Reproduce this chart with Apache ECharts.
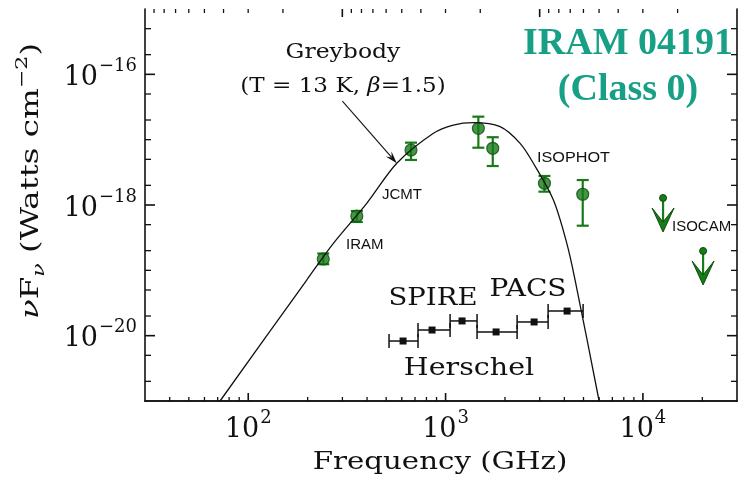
<!DOCTYPE html>
<html>
<head>
<meta charset="utf-8">
<script src="https://cdn.jsdelivr.net/npm/echarts@6/dist/echarts.min.js"></script>
<style>
  html, body { margin: 0; padding: 0; background: #fff; }
  #chart { width: 738px; height: 478px; }
</style>
</head>
<body>
<div id="chart"></div>
<script>
// ---- Ground-based / ISOPHOT detections (GHz, W cm^-2) ----
const detFreq = [240, 355, 668, 1466, 1734, 3170, 4955];
const detFlux = [1.49e-19, 6.79e-19, 6.95e-18, 1.49e-17, 7.38e-18, 2.15e-18, 1.46e-18];
const detLow  = [1.24e-19, 5.50e-19, 4.89e-18, 7.53e-18, 3.95e-18, 1.60e-18, 4.82e-19];
const detHigh = [1.81e-19, 8.09e-19, 9.00e-18, 2.25e-17, 1.09e-17, 2.78e-18, 2.41e-18];

// ---- ISOCAM upper limits ----
const limFreq = [12650, 20180];
const limFlux = [1.28e-18, 1.98e-19];

// ---- Herschel sensitivities (band centre, band edges) ----
const herFreq = [609, 854, 1212, 1803, 2810, 4129];
const herFlux = [8.28e-21, 1.22e-20, 1.68e-20, 1.14e-20, 1.62e-20, 2.38e-20];
const herLo   = [517, 725, 1054, 1444, 2304, 3308];
const herHi   = [725, 1054, 1444, 2304, 3308, 4977];

// ---- Greybody curve (T = 13 K, beta = 1.5) ----
const gbFreq = [60, 71.95, 197.9, 270.0, 398.6, 565.9, 867.7, 1095, 1383, 1889, 2386, 2786, 3519, 4115, 4533, 5998, 6500];
const gbFlux = [4.67e-22, 1.0e-21, 7.11e-20, 2.59e-19, 1.06e-18, 4.35e-18, 1.25e-17, 1.67e-17, 1.82e-17, 1.58e-17, 8.79e-18, 4.35e-18, 1.19e-18, 2.59e-19, 7.11e-20, 1.0e-21, 2.9e-22];

// ---- Pointer from the model caption to the curve ----
const pointerFrom = [300, 3.9e-17];
const pointerTo = [565.9, 4.35e-18];

// ---- Axis ranges and tick values ----
const freqMin = 29.9792458, freqMax = 29979.2458;     // GHz  (10 mm .. 10 um)
const waveMin = 10, waveMax = 10000;                 // um on the top axis
const fluxMin = 1e-21, fluxMax = 1e-15;
const freqTicks = [40, 50, 60, 70, 80, 90, 100, 200, 300, 400, 500, 600, 700, 800, 900,
                   1000, 2000, 3000, 4000, 5000, 6000, 7000, 8000, 9000, 10000, 20000];
const freqMajor = [100, 1000, 10000];
const waveTicks = [20, 30, 40, 50, 60, 70, 80, 90, 100, 200, 300, 400, 500, 600, 700, 800, 900,
                   1000, 2000, 3000, 4000, 5000, 6000, 7000, 8000, 9000];
const waveMajor = [100, 1000];
const fluxTicks = [2e-21, 5e-21, 1e-20, 2e-20, 5e-20, 1e-19, 2e-19, 5e-19, 1e-18, 2e-18, 5e-18,
                   1e-17, 2e-17, 5e-17, 1e-16, 2e-16, 5e-16];
const fluxMajor = [1e-20, 1e-18, 1e-16];

const SERIF = '"DejaVu Serif", serif';
const SANS = '"Liberation Sans", Arial, sans-serif';
const GREEN = '#187a18';
const GREEN_DARK = '#0c4f0c';
const TEAL = '#17a085';
const INK = '#111';

const isMajor = (list, v) => list.some(m => Math.abs(m - v) / m < 1e-9);
const decadeExp = v => Math.round(Math.log10(v));
const isDecade = v => Math.abs(Math.log10(v) - decadeExp(v)) < 1e-6;

const chart = echarts.init(document.getElementById('chart'), null, { renderer: 'canvas' });

function tickRenderer(side) {
  return function (params, api) {
    const cs = params.coordSys;
    const v = api.value(0);
    const major = api.value(1) === 1;
    let shape;
    if (side === 'bottom' || side === 'top') {
      const len = major ? 8 : 4;
      const x = api.coord([v, fluxMin])[0];
      if (side === 'bottom') shape = { x1: x, y1: cs.y + cs.height, x2: x, y2: cs.y + cs.height - len };
      else shape = { x1: x, y1: cs.y, x2: x, y2: cs.y + len };
    } else {
      const len = major ? 10 : 6;
      const y = api.coord([freqMin, v])[1];
      if (side === 'left') shape = { x1: cs.x, y1: y, x2: cs.x + len, y2: y };
      else shape = { x1: cs.x + cs.width, y1: y, x2: cs.x + cs.width - len, y2: y };
    }
    return { type: 'line', shape, style: { stroke: INK, lineWidth: major ? 1.6 : 1.3 } };
  };
}

const supLabel = {
  b: { fontFamily: SERIF, fontSize: 27, color: INK, lineHeight: 34, verticalAlign: 'bottom' },
  s: { fontFamily: SERIF, fontSize: 18, color: INK, lineHeight: 34, verticalAlign: 'top', padding: [0, 0, 0, 1] }
};

const option = {
  animation: false,
  backgroundColor: '#fff',
  grid: { left: 145, right: 1, top: 9, bottom: 77, containLabel: false },
  xAxis: [
    {
      type: 'log', logBase: 10, min: freqMin, max: freqMax, position: 'bottom',
      axisLine: { show: true, lineStyle: { color: INK, width: 1.6 } },
      axisTick: { show: false }, splitLine: { show: false }, minorTick: { show: false },
      axisLabel: {
        margin: 8, showMinLabel: false, showMaxLabel: false,
        formatter: v => (isDecade(v) ? '{b|10}{s|' + decadeExp(v) + '}' : ''),
        rich: supLabel
      }
    },
    {
      type: 'log', logBase: 10, min: waveMin, max: waveMax, position: 'top', inverse: true,
      axisLine: { show: true, lineStyle: { color: INK, width: 1.6 } },
      axisTick: { show: false }, axisLabel: { show: false }, splitLine: { show: false }
    }
  ],
  yAxis: [
    {
      type: 'log', logBase: 10, min: fluxMin, max: fluxMax, position: 'left',
      axisLine: { show: true, lineStyle: { color: INK, width: 1.6 } },
      axisTick: { show: false }, splitLine: { show: false },
      axisLabel: {
        margin: 8, showMinLabel: false, showMaxLabel: false,
        formatter: v => (isDecade(v) && decadeExp(v) % 2 === 0 ? '{b|10}{s|\u2212' + (-decadeExp(v)) + '}' : ''),
        rich: supLabel
      }
    },
    {
      type: 'log', logBase: 10, min: fluxMin, max: fluxMax, position: 'right',
      axisLine: { show: true, lineStyle: { color: INK, width: 1.6 } },
      axisTick: { show: false }, axisLabel: { show: false }, splitLine: { show: false }
    }
  ],
  series: [
    // axis ticks
    {
      type: 'custom', xAxisIndex: 0, yAxisIndex: 0, silent: true, clip: false,
      data: freqTicks.map(v => [v, isMajor(freqMajor, v) ? 1 : 0]),
      renderItem: tickRenderer('bottom')
    },
    {
      type: 'custom', xAxisIndex: 1, yAxisIndex: 0, silent: true, clip: false,
      data: waveTicks.map(v => [v, isMajor(waveMajor, v) ? 1 : 0]),
      renderItem: tickRenderer('top')
    },
    {
      type: 'custom', xAxisIndex: 0, yAxisIndex: 0, silent: true, clip: false,
      data: fluxTicks.map(v => [v, isMajor(fluxMajor, v) ? 1 : 0]),
      renderItem: tickRenderer('left'),
      encode: { y: 0 }
    },
    {
      type: 'custom', xAxisIndex: 0, yAxisIndex: 0, silent: true, clip: false,
      data: fluxTicks.map(v => [v, isMajor(fluxMajor, v) ? 1 : 0]),
      renderItem: tickRenderer('right'),
      encode: { y: 0 }
    },
    // greybody model
    {
      type: 'line', xAxisIndex: 0, yAxisIndex: 0, showSymbol: false, smooth: 0.3, clip: true,
      data: gbFreq.map((f, i) => [f, gbFlux[i]]),
      lineStyle: { color: INK, width: 1.3 }
    },
    // pointer arrow to the model curve
    {
      type: 'custom', xAxisIndex: 0, yAxisIndex: 0, silent: true,
      data: [[pointerFrom[0], pointerFrom[1], pointerTo[0], pointerTo[1]]],
      renderItem: (params, api) => {
        const a = api.coord([api.value(0), api.value(1)]);
        const b = api.coord([api.value(2), api.value(3)]);
        const ang = Math.atan2(b[1] - a[1], b[0] - a[0]);
        const L = 13, spread = 0.3;
        const p1 = [b[0] - L * Math.cos(ang - spread), b[1] - L * Math.sin(ang - spread)];
        const p2 = [b[0] - L * Math.cos(ang + spread), b[1] - L * Math.sin(ang + spread)];
        const mid = [b[0] - 0.6 * L * Math.cos(ang), b[1] - 0.6 * L * Math.sin(ang)];
        return {
          type: 'group', children: [
            { type: 'line', shape: { x1: a[0], y1: a[1], x2: mid[0], y2: mid[1] }, style: { stroke: INK, lineWidth: 1.1 } },
            { type: 'polygon', shape: { points: [b, p1, mid, p2] }, style: { fill: INK } }
          ]
        };
      }
    },
    // error bars on detections
    {
      type: 'custom', xAxisIndex: 0, yAxisIndex: 0, silent: true,
      data: detFreq.map((f, i) => [f, detLow[i], detHigh[i]]),
      renderItem: (params, api) => {
        const lo = api.coord([api.value(0), api.value(1)]);
        const hi = api.coord([api.value(0), api.value(2)]);
        const w = 6;
        const st = { stroke: GREEN, lineWidth: 2.2 };
        return {
          type: 'group', children: [
            { type: 'line', shape: { x1: lo[0], y1: lo[1], x2: hi[0], y2: hi[1] }, style: st },
            { type: 'line', shape: { x1: lo[0] - w, y1: lo[1], x2: lo[0] + w, y2: lo[1] }, style: st },
            { type: 'line', shape: { x1: hi[0] - w, y1: hi[1], x2: hi[0] + w, y2: hi[1] }, style: st }
          ]
        };
      }
    },
    // detections
    {
      type: 'scatter', xAxisIndex: 0, yAxisIndex: 0, symbol: 'circle', symbolSize: 12,
      data: detFreq.map((f, i) => [f, detFlux[i]]),
      itemStyle: { color: GREEN, borderColor: GREEN_DARK, borderWidth: 1.2 }
    },
    // ISOCAM upper limits
    {
      type: 'custom', xAxisIndex: 0, yAxisIndex: 0, silent: true,
      data: limFreq.map((f, i) => [f, limFlux[i]]),
      renderItem: (params, api) => {
        const p = api.coord([api.value(0), api.value(1)]);
        const tipY = p[1] + 34;
        return {
          type: 'group', children: [
            { type: 'line', shape: { x1: p[0], y1: p[1], x2: p[0], y2: tipY - 4 }, style: { stroke: GREEN, lineWidth: 2.2 } },
            { type: 'circle', shape: { cx: p[0], cy: p[1], r: 3.5 }, style: { fill: GREEN, stroke: GREEN_DARK, lineWidth: 1 } },
            { type: 'polygon', shape: { points: [[p[0] - 11, tipY - 24], [p[0], tipY - 10], [p[0] + 11, tipY - 24], [p[0], tipY]] },
              style: { fill: GREEN, stroke: GREEN_DARK, lineWidth: 1 } }
          ]
        };
      }
    },
    // Herschel sensitivity bars
    {
      type: 'custom', xAxisIndex: 0, yAxisIndex: 0, silent: true,
      data: herFreq.map((f, i) => [f, herFlux[i], herLo[i], herHi[i]]),
      renderItem: (params, api) => {
        const c = api.coord([api.value(0), api.value(1)]);
        const l = api.coord([api.value(2), api.value(1)]);
        const r = api.coord([api.value(3), api.value(1)]);
        const st = { stroke: INK, lineWidth: 1.5 };
        const h = 7;
        return {
          type: 'group', children: [
            { type: 'line', shape: { x1: l[0], y1: c[1], x2: r[0], y2: c[1] }, style: st },
            { type: 'line', shape: { x1: l[0], y1: c[1] - h, x2: l[0], y2: c[1] + h }, style: st },
            { type: 'line', shape: { x1: r[0], y1: c[1] - h, x2: r[0], y2: c[1] + h }, style: st },
            { type: 'rect', shape: { x: c[0] - 3.5, y: c[1] - 3.5, width: 7, height: 7 }, style: { fill: INK } }
          ]
        };
      }
    }
  ],
  graphic: [
    // source name
    { type: 'text', x: 628, y: 44, style: { text: 'IRAM 04191', font: 'bold 38px "Liberation Serif", serif', fill: TEAL, align: 'center', verticalAlign: 'middle' } },
    { type: 'text', x: 628, y: 90, style: { text: '(Class 0)', font: 'bold 38px "Liberation Serif", serif', fill: TEAL, align: 'center', verticalAlign: 'middle' } },
    // model caption
    { type: 'text', x: 343, y: 53, scaleX: 1.12, style: { text: 'Greybody', font: '21px ' + SERIF, fill: INK, align: 'center', verticalAlign: 'middle' } },
    {
      type: 'text', x: 343, y: 87, scaleX: 1.1,
      style: {
        text: '{m|(T = 13 K, }{g|\u03b2}{m|=1.5)}', align: 'center', verticalAlign: 'middle',
        rich: {
          m: { fontFamily: SERIF, fontSize: 21, fill: INK },
          g: { fontFamily: SERIF, fontStyle: 'italic', fontSize: 21, fill: INK }
        }
      }
    },
    // instrument labels
    { type: 'text', x: 382, y: 195, style: { text: 'JCMT', font: '15px ' + SANS, fill: INK, verticalAlign: 'middle' } },
    { type: 'text', x: 346, y: 245, style: { text: 'IRAM', font: '15px ' + SANS, fill: INK, verticalAlign: 'middle' } },
    { type: 'text', x: 537, y: 158, scaleX: 1.08, style: { text: 'ISOPHOT', font: '15px ' + SANS, fill: INK, verticalAlign: 'middle' } },
    { type: 'text', x: 672, y: 227, style: { text: 'ISOCAM', font: '15px ' + SANS, fill: INK, verticalAlign: 'middle' } },
    // Herschel labels
    { type: 'text', x: 433, y: 298, scaleX: 1.1, style: { text: 'SPIRE', font: '25px ' + SERIF, fill: INK, align: 'center', verticalAlign: 'middle' } },
    { type: 'text', x: 528, y: 289, scaleX: 1.12, style: { text: 'PACS', font: '25px ' + SERIF, fill: INK, align: 'center', verticalAlign: 'middle' } },
    { type: 'text', x: 469, y: 368, scaleX: 1.14, style: { text: 'Herschel', font: '25px ' + SERIF, fill: INK, align: 'center', verticalAlign: 'middle' } },
    // axis titles
    { type: 'text', x: 440, y: 462, scaleX: 1.17, style: { text: 'Frequency (GHz)', font: '25px ' + SERIF, fill: INK, align: 'center', verticalAlign: 'middle' } },
    {
      type: 'text', x: 31, y: 181, rotation: Math.PI / 2, scaleX: 1.3,
      style: {
        text: '{i|\u03bd}{m|F}{sub|\u03bd}{m| (Watts cm}{sup|\u22122}{m|)}',
        align: 'center', verticalAlign: 'middle',
        rich: {
          i: { fontFamily: SERIF, fontStyle: 'italic', fontSize: 25, lineHeight: 34, verticalAlign: 'middle', fill: INK },
          m: { fontFamily: SERIF, fontSize: 25, lineHeight: 34, verticalAlign: 'middle', fill: INK },
          sub: { fontFamily: SERIF, fontStyle: 'italic', fontSize: 17, lineHeight: 34, verticalAlign: 'bottom', fill: INK },
          sup: { fontFamily: SERIF, fontSize: 17, lineHeight: 34, verticalAlign: 'top', fill: INK }
        }
      }
    }
  ]
};

chart.setOption(option);
</script>
</body>
</html>
